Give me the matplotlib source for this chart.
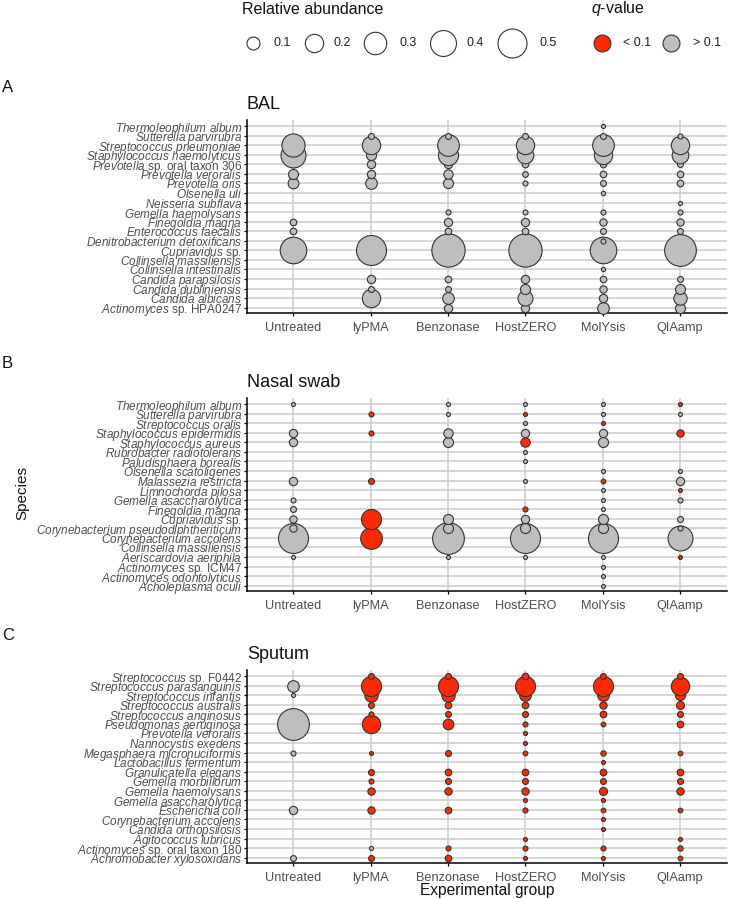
import numpy as np
import matplotlib
matplotlib.use("Agg")
import matplotlib.pyplot as plt

plt.rcParams['font.family'] = ['Liberation Sans', 'DejaVu Sans']
plt.rcParams['mathtext.fontset'] = 'custom'
plt.rcParams['mathtext.rm'] = 'Liberation Sans'
plt.rcParams['mathtext.it'] = 'Liberation Sans:italic'
plt.rcParams['mathtext.bf'] = 'Liberation Sans:bold'

groups = ["Untreated", "lyPMA", "Benzonase", "HostZERO", "MolYsis", "QIAamp"]

# ---- BAL ----
bal_species = ["Thermoleophilum album", "Sutterella parvirubra", "Streptococcus pneumoniae",
               "Staphylococcus haemolyticus", "Prevotella sp. oral taxon 306", "Prevotella veroralis",
               "Prevotella oris", "Olsenella uli", "Neisseria subflava", "Gemella haemolysans",
               "Finegoldia magna", "Enterococcus faecalis", "Denitrobacterium detoxificans",
               "Cupriavidus sp.", "Collinsella massiliensis", "Collinsella intestinalis",
               "Candida parapsilosis", "Candida dubliniensis", "Candida albicans",
               "Actinomyces sp. HPA0247"]
# columns: Untreated, lyPMA, Benzonase, HostZERO, MolYsis, QIAamp
bal_abund = [
    [0, 0, 0, 0, 0.010, 0],
    [0, 0.021, 0.021, 0.021, 0.021, 0.015],
    [0.32, 0.20, 0.28, 0.20, 0.28, 0.20],
    [0.37, 0.06, 0.24, 0.165, 0.20, 0.165],
    [0.026, 0.041, 0.040, 0.026, 0.026, 0.021],
    [0.060, 0.041, 0.052, 0.019, 0.026, 0.026],
    [0.068, 0.081, 0.060, 0.015, 0.021, 0.026],
    [0, 0, 0, 0, 0.011, 0],
    [0, 0, 0, 0, 0, 0.0095],
    [0, 0, 0.015, 0.015, 0.015, 0.015],
    [0.026, 0, 0.041, 0.041, 0.032, 0.032],
    [0.026, 0, 0.026, 0.026, 0.021, 0.021],
    [0, 0, 0, 0, 0.015, 0],
    [0.42, 0.535, 0.66, 0.66, 0.42, 0.60],
    [0, 0, 0, 0, 0, 0],
    [0, 0, 0, 0, 0.011, 0],
    [0, 0.041, 0.026, 0.041, 0.026, 0.021],
    [0, 0.021, 0.021, 0.060, 0.032, 0.060],
    [0, 0.20, 0.081, 0.134, 0.041, 0.106],
    [0, 0, 0.041, 0.041, 0.081, 0.060],
]
bal_sig = [[0] * 6 for _ in bal_species]

# ---- Nasal swab ----
nasal_species = ["Thermoleophilum album", "Sutterella parvirubra", "Streptococcus oralis",
                 "Staphylococcus epidermidis", "Staphylococcus aureus", "Rubrobacter radiotolerans",
                 "Paludisphaera borealis", "Olsenella scatoligenes", "Malassezia restricta",
                 "Limnochorda pilosa", "Gemella asaccharolytica", "Finegoldia magna",
                 "Cupriavidus sp.", "Corynebacterium pseudodiphtheriticum", "Corynebacterium accolens",
                 "Collinsella massiliensis", "Aeriscardovia aeriphila", "Actinomyces sp. ICM47",
                 "Actinomyces odontolyticus", "Acholeplasma oculi"]
nasal_abund = [
    [0.0095, 0, 0.0095, 0.0095, 0.0095, 0.0095],
    [0, 0.015, 0.0095, 0.0095, 0.0095, 0.0095],
    [0, 0, 0, 0.0095, 0.0095, 0],
    [0.041, 0.015, 0.052, 0.041, 0.041, 0.032],
    [0.041, 0, 0.060, 0.052, 0.060, 0],
    [0, 0, 0, 0.0095, 0, 0],
    [0, 0, 0, 0.0095, 0, 0],
    [0, 0, 0, 0, 0.0095, 0.0095],
    [0.041, 0.021, 0, 0.0095, 0.013, 0.041],
    [0, 0, 0, 0, 0.0095, 0.0095],
    [0.015, 0, 0, 0, 0.0095, 0.015],
    [0.021, 0, 0, 0.015, 0.0095, 0],
    [0.032, 0.24, 0.060, 0.041, 0.060, 0.021],
    [0.032, 0, 0.060, 0.060, 0.060, 0.015],
    [0.535, 0.28, 0.60, 0.535, 0.535, 0.37],
    [0, 0, 0, 0, 0, 0],
    [0.0095, 0, 0.0095, 0.0095, 0.0095, 0.0095],
    [0, 0, 0, 0, 0.0095, 0],
    [0, 0, 0, 0, 0.0095, 0],
    [0, 0, 0, 0, 0.0095, 0],
]
nasal_sig = [
    [0, 0, 0, 0, 0, 1],
    [0, 1, 0, 1, 0, 0],
    [0, 0, 0, 0, 1, 0],
    [0, 1, 0, 0, 0, 1],
    [0, 0, 0, 1, 0, 0],
    [0, 0, 0, 0, 0, 0],
    [0, 0, 0, 0, 0, 0],
    [0, 0, 0, 0, 0, 0],
    [0, 1, 0, 0, 1, 0],
    [0, 0, 0, 0, 0, 1],
    [0, 0, 0, 0, 0, 0],
    [0, 0, 0, 1, 0, 0],
    [0, 1, 0, 0, 0, 0],
    [0, 0, 0, 0, 0, 0],
    [0, 1, 0, 0, 0, 0],
    [0, 0, 0, 0, 0, 0],
    [0, 0, 0, 0, 0, 1],
    [0, 0, 0, 0, 0, 0],
    [0, 0, 0, 0, 0, 0],
    [0, 0, 0, 0, 0, 0],
]

# ---- Sputum ----
sputum_species = ["Streptococcus sp. F0442", "Streptococcus parasanguinis", "Streptococcus infantis",
                  "Streptococcus australis", "Streptococcus anginosus", "Pseudomonas aeruginosa",
                  "Prevotella veroralis", "Nannocystis exedens", "Megasphaera micronuciformis",
                  "Lactobacillus fermentum", "Granulicatella elegans", "Gemella morbillorum",
                  "Gemella haemolysans", "Gemella asaccharolytica", "Escherichia coli",
                  "Corynebacterium accolens", "Candida orthopsilosis", "Agitococcus lubricus",
                  "Actinomyces sp. oral taxon 180", "Achromobacter xylosoxidans"]
sputum_abund = [
    [0, 0.021, 0.021, 0.026, 0.021, 0.021],
    [0.081, 0.24, 0.24, 0.24, 0.24, 0.20],
    [0.0095, 0.106, 0.106, 0.081, 0.081, 0.060],
    [0, 0.021, 0.026, 0.026, 0.032, 0.038],
    [0, 0.015, 0.021, 0.021, 0.026, 0.021],
    [0.60, 0.20, 0.068, 0.015, 0.013, 0.026],
    [0, 0, 0, 0.0095, 0, 0],
    [0, 0, 0, 0.0095, 0, 0],
    [0.015, 0.0095, 0.021, 0.013, 0.017, 0.013],
    [0, 0, 0, 0, 0.0095, 0],
    [0, 0.021, 0.026, 0.026, 0.026, 0.026],
    [0, 0.015, 0.021, 0.021, 0.021, 0.021],
    [0, 0.032, 0.032, 0.032, 0.038, 0.032],
    [0, 0, 0, 0.0095, 0.0095, 0],
    [0.041, 0.032, 0.026, 0.015, 0.013, 0.013],
    [0, 0, 0, 0, 0.0095, 0],
    [0, 0, 0, 0, 0.0095, 0],
    [0, 0, 0, 0.0095, 0, 0.0095],
    [0, 0.0095, 0.015, 0.015, 0.015, 0.017],
    [0.021, 0.021, 0.026, 0.0095, 0.0095, 0.013],
]
sputum_sig = [[0, 1, 1, 1, 1, 1] for _ in sputum_species]
sputum_sig[18] = [0, 0, 1, 1, 1, 1]

size_breaks = [0.1, 0.2, 0.3, 0.4, 0.5]

RED = "#ff2a05"
GREY = "#bebebe"
EDGE = "#333333"
W, H = 730, 899
SCALE = 871  # points^2 per unit abundance

fig = plt.figure(figsize=(W / 100, H / 100), dpi=100)


def label(name):
    # genus italic, "sp. ..." upright
    if " sp." in name:
        genus, rest = name.split(" sp.", 1)
        return r"$\mathit{" + genus + "}$ sp." + rest
    return r"$\mathit{" + name.replace(" ", r"\ ") + "}$"


def panel(top, bottom, species, abund, sig, title):
    left, right = 247, 726.5
    ax = fig.add_axes([left / W, 1 - bottom / H, (right - left) / W, (bottom - top) / H])
    n = len(species)
    ax.set_xlim(-0.6, len(groups) - 0.4)
    ax.set_ylim(-0.6, n - 0.4)
    for k in range(n):
        ax.axhline(k, color="#cccccc", lw=1.1, zorder=0)
    for j in range(len(groups)):
        ax.axvline(j, color="#cccccc", lw=1.1, zorder=0)
    # bottom rows drawn first so upper rows sit on top
    for i in range(n - 1, -1, -1):
        for j in range(len(groups)):
            v = abund[i][j]
            if v <= 0:
                continue
            ax.scatter(j, n - 1 - i, s=SCALE * v, c=RED if sig[i][j] else GREY,
                       edgecolors=EDGE, linewidths=0.8, zorder=3, clip_on=False)
    ax.set_yticks(range(n))
    ax.set_yticklabels([label(s) for s in species[::-1]], fontsize=8.5, color="#4d4d4d")
    ax.set_xticks(range(len(groups)))
    ax.set_xticklabels(groups, fontsize=9.2, color="#4d4d4d")
    ax.tick_params(axis="y", length=2.5, width=0.9, pad=1)
    ax.tick_params(axis="x", length=2.5, width=0.9, pad=4)
    for s in ["top", "right"]:
        ax.spines[s].set_visible(False)
    for s in ["left", "bottom"]:
        ax.spines[s].set_linewidth(1.1)
    fig.text(left / W, 1 - (top - 11.5) / H, title, fontsize=13, va="baseline", ha="left", color="#111111")
    return ax


panel(120.3, 313.4, bal_species, bal_abund, bal_sig, "BAL")
panel(398.3, 591.4, nasal_species, nasal_abund, nasal_sig, "Nasal swab")
panel(670.3, 863.4, sputum_species, sputum_abund, sputum_sig, "Sputum")
fig.text(22 / W, 1 - 493 / H, "Species", rotation=90, fontsize=11, va="center", ha="center", color="#111111")
fig.text(486.75 / W, 1 - 894.5 / H, "Experimental group", fontsize=11.2, va="baseline", ha="center", color="#111111")

for letter, y in [("A", 87), ("B", 364), ("C", 635)]:
    fig.text(2 / W, 1 - y / H, letter, fontsize=12, va="center", ha="left", color="#111111")

# legend overlay in pixel coordinates
lax = fig.add_axes([0, 0, 1, 1])
lax.set_xlim(0, W)
lax.set_ylim(H, 0)
lax.axis("off")
lax.text(241.7, 13.5, "Relative abundance", fontsize=11.5, va="baseline", ha="left", color="#111111")
lax.text(590.7, 13.5, r"$\mathit{q}$-value", fontsize=11.5, va="baseline", ha="left", color="#111111")
key_x = [253, 314, 375, 442.7, 512]
lab_x = [274, 334, 399, 466.7, 539]
for v, kx, tx in zip(size_breaks, key_x, lab_x):
    lax.scatter(kx, 43, s=SCALE * v, facecolors="white", edgecolors=EDGE, linewidths=0.8)
    lax.text(tx, 43, str(v), fontsize=9, va="center", ha="left", color="#222222")
lax.scatter(602, 43, s=SCALE * 0.17, facecolors=RED, edgecolors=EDGE, linewidths=0.8)
lax.text(622.7, 43, "< 0.1", fontsize=9, va="center", ha="left", color="#222222")
lax.scatter(671, 43, s=SCALE * 0.17, facecolors=GREY, edgecolors=EDGE, linewidths=0.8)
lax.text(692.7, 43, "> 0.1", fontsize=9, va="center", ha="left", color="#222222")

fig.savefig("out.png", dpi=100)
